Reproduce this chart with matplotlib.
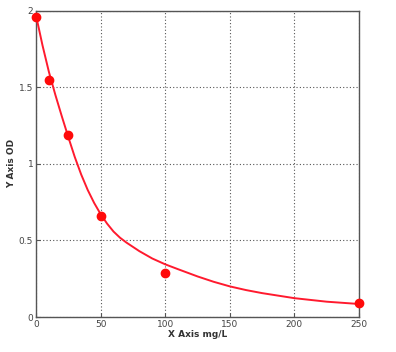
import matplotlib
matplotlib.use("Agg")
import matplotlib.pyplot as plt


# DATOS

conc_puntos = [0, 10, 25, 50, 100, 250]
od_puntos = [1.96, 1.55, 1.19, 0.66, 0.29, 0.09]

# curva ajustada
conc_curva = [0, 5, 10, 15, 20, 25, 30, 35, 40, 45, 50, 55, 60, 65, 70,
              80, 90, 100, 110, 125, 137.5, 150, 162.5, 175, 200, 225, 250]
od_curva = [1.97, 1.775, 1.60, 1.45, 1.31, 1.175, 1.045, 0.93, 0.83,
            0.745, 0.672, 0.61, 0.558, 0.518, 0.486, 0.43, 0.382, 0.344,
            0.312, 0.265, 0.23, 0.2, 0.176, 0.156, 0.123, 0.10, 0.085]

x_ticks = [0, 50, 100, 150, 200, 250]
y_ticks = [0, 0.5, 1, 1.5, 2]


# GRAFICO

fig = plt.figure(figsize=(3.96, 3.52), dpi=100)
ax = fig.add_axes([0.0909, 0.0994, 0.8157, 0.8702])

ax.plot(conc_curva, od_curva, color="#ff1a2e", linewidth=1.4, zorder=3,
        solid_joinstyle="round")
ax.plot(conc_puntos, od_puntos, "o", color="#ff0a0a", markersize=6,
        zorder=4, clip_on=False)

ax.set_xlim(0, 250)
ax.set_ylim(0, 2)
ax.set_xticks(x_ticks)
ax.set_yticks(y_ticks)
ax.set_xticklabels([str(v) for v in x_ticks])
ax.set_yticklabels(["0", "0.5", "1", "1.5", "2"])

ax.grid(True, linestyle=(0, (1, 2)), color="#555555", linewidth=0.8)
ax.tick_params(direction="in", length=3, colors="#555555", labelsize=6.5,
               labelcolor="#444444", pad=2)
for lado in ax.spines.values():
    lado.set_color("#555555")
    lado.set_linewidth(1.0)

ax.set_xlabel("X Axis mg/L", fontsize=6.5, fontweight="bold",
              color="#333333", labelpad=1)
ax.set_ylabel("Y Axis OD", fontsize=6.5, fontweight="bold",
              color="#333333", labelpad=2)

fig.savefig("out.png", dpi=100)
